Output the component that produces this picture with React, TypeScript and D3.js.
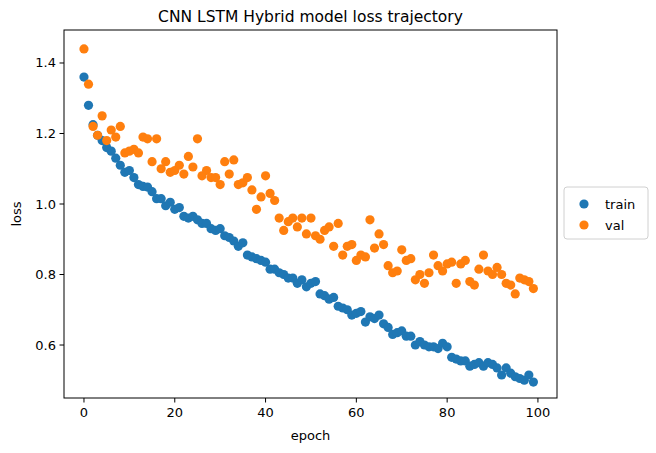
import * as d3 from "d3"

const train = [1.36,1.28,1.225,1.195,1.18,1.16,1.15,1.13,1.11,1.09,1.095,1.075,1.055,1.05,1.048,1.035,1.015,1.015,0.995,1.005,0.985,0.99,0.965,0.96,0.965,0.955,0.945,0.945,0.93,0.925,0.93,0.91,0.905,0.895,0.88,0.89,0.855,0.85,0.845,0.84,0.835,0.815,0.815,0.805,0.8,0.79,0.79,0.775,0.785,0.765,0.775,0.78,0.745,0.74,0.73,0.735,0.71,0.705,0.7,0.685,0.69,0.695,0.665,0.68,0.675,0.685,0.66,0.65,0.63,0.635,0.64,0.625,0.625,0.6,0.61,0.6,0.595,0.595,0.59,0.605,0.595,0.565,0.56,0.555,0.555,0.54,0.545,0.55,0.54,0.55,0.545,0.535,0.515,0.535,0.52,0.51,0.505,0.5,0.515,0.495]
const val = [1.44,1.34,1.22,1.195,1.25,1.18,1.21,1.19,1.22,1.145,1.15,1.155,1.145,1.19,1.185,1.12,1.185,1.1,1.12,1.09,1.095,1.11,1.085,1.135,1.105,1.185,1.08,1.095,1.075,1.075,1.055,1.12,1.085,1.125,1.055,1.06,1.075,1.04,0.985,1.02,1.08,1.03,1.01,0.96,0.925,0.95,0.96,0.935,0.96,0.915,0.96,0.91,0.9,0.925,0.935,0.88,0.945,0.855,0.88,0.885,0.84,0.855,0.85,0.955,0.875,0.915,0.885,0.825,0.805,0.81,0.87,0.84,0.845,0.785,0.8,0.775,0.805,0.855,0.825,0.81,0.83,0.835,0.775,0.83,0.84,0.78,0.77,0.815,0.855,0.81,0.8,0.82,0.8,0.775,0.77,0.745,0.79,0.785,0.78,0.76]
const xTicks = [0, 20, 40, 60, 80, 100]
const yTicks = [0.6, 0.8, 1.0, 1.2, 1.4]
const series = [
  { name: "train", values: train, color: "#1f77b4" },
  { name: "val", values: val, color: "#ff7f0e" },
]

const L = 64, R = 557, T = 30, B = 398

export default function App() {
  const x = d3.scaleLinear().domain([-4.4, 104.2]).range([L, R])
  const y = d3.scaleLinear().domain([0.4497, 1.4936]).range([B, T])
  const font = "DejaVu Sans, sans-serif"
  return (
    <svg width={656} height={453} style={{ position: "absolute", left: 0, top: 0 }} fontFamily={font}>
      <rect width={656} height={453} fill="white" />
      <text x={(L + R) / 2} y={22} textAnchor="middle" fontSize={15.5}>CNN LSTM Hybrid model loss trajectory</text>
      {series.map((s) => (
        <g key={s.name}>
          {s.values.map((v, i) => (
            <circle key={i} cx={x(i)} cy={y(v)} r={4.6} fill={s.color} />
          ))}
        </g>
      ))}
      <rect x={L} y={T} width={R - L} height={B - T} fill="none" stroke="black" strokeWidth={1} />
      {xTicks.map((t) => (
        <g key={t}>
          <line x1={x(t)} x2={x(t)} y1={B} y2={B + 4.5} stroke="black" />
          <text x={x(t)} y={B + 19} textAnchor="middle" fontSize={13}>{t}</text>
        </g>
      ))}
      {yTicks.map((t) => (
        <g key={t}>
          <line x1={L - 4.5} x2={L} y1={y(t)} y2={y(t)} stroke="black" />
          <text x={L - 8} y={y(t) + 4.5} textAnchor="end" fontSize={13}>{t.toFixed(1)}</text>
        </g>
      ))}
      <text x={(L + R) / 2} y={440} textAnchor="middle" fontSize={13}>epoch</text>
      <text transform={`translate(21,${(T + B) / 2}) rotate(-90)`} textAnchor="middle" fontSize={13}>loss</text>
      <rect x={564} y={187} width={84} height={52} rx={3} fill="white" stroke="#d0d0d0" />
      {series.map((s, i) => (
        <g key={s.name}>
          <circle cx={584} cy={204 + i * 21} r={4.6} fill={s.color} />
          <text x={605} y={208.5 + i * 21} fontSize={13}>{s.name}</text>
        </g>
      ))}
    </svg>
  )
}
